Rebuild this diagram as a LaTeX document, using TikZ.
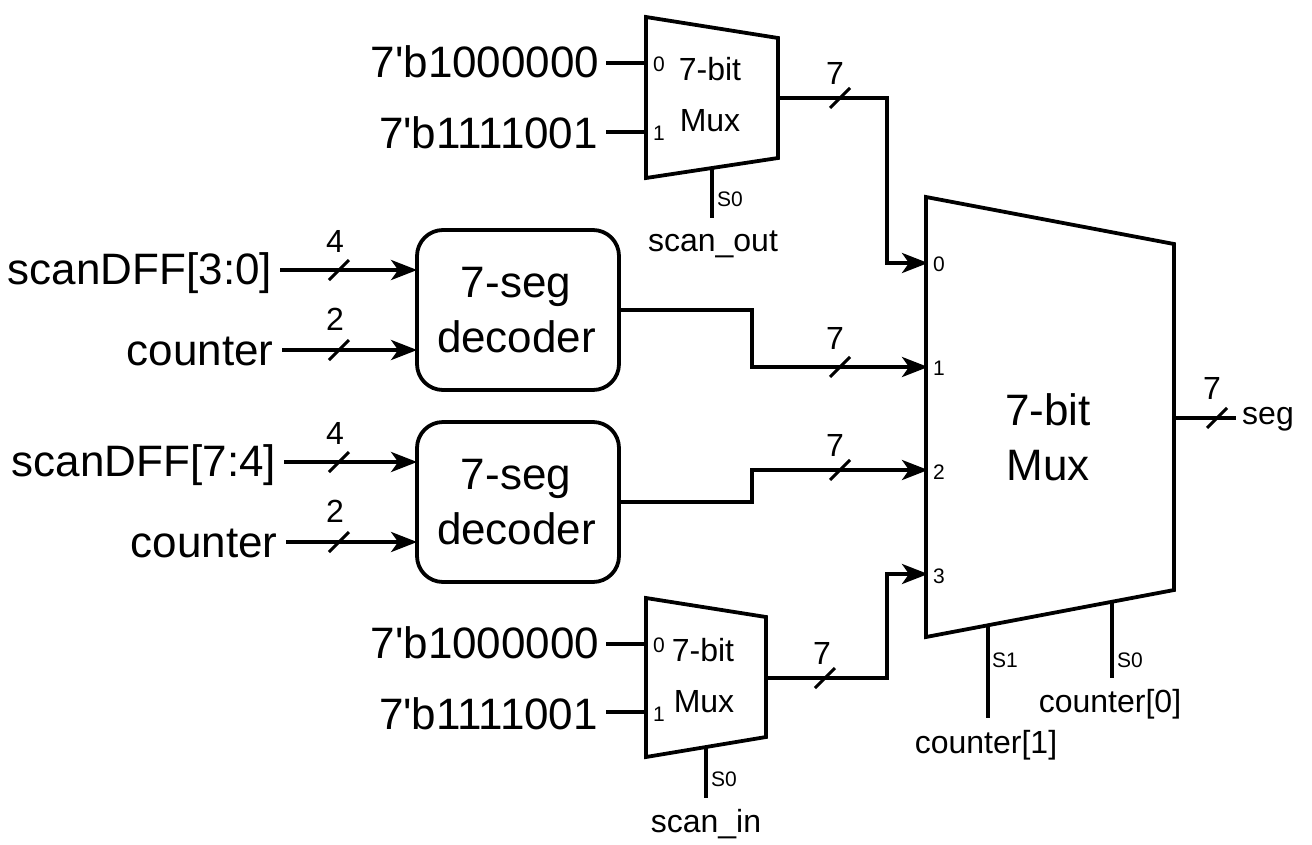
\documentclass[tikz,border=0pt]{standalone}
\usepackage{fontspec}
\setmainfont{Liberation Sans}
\usetikzlibrary{arrows.meta}
\tikzset{
  x=1pt,y=-1pt,
  wire/.style={line width=3.8pt,line join=miter},
  arrowwire/.style={wire,-{Stealth[length=26pt,width=20pt,inset=7pt]},shorten >=-2pt},
  box/.style={line width=3.8pt,line join=miter},
  slash/.style={line width=3pt},
  big/.style={font=\fontsize{44}{44}\selectfont,inner sep=0pt},
  small/.style={font=\fontsize{32}{32}\selectfont,inner sep=0pt},
  pin/.style={font=\fontsize{21}{21}\selectfont,inner sep=0pt},
  buslabel/.style={font=\fontsize{32}{32}\selectfont,inner sep=0pt},
  dec/.style={draw,line width=3.8pt,rounded corners=26pt,minimum width=202pt,minimum height=160pt,inner sep=0pt},
}
\newcommand{\busmark}[5]{%
  \draw[slash] (#1-10,#2+10) -- (#1+10,#2-10);
  \node[buslabel] at (#3,#4) {#5};}
\newcommand{\qq}{\textquotesingle}
\begin{document}
\begin{tikzpicture}
\useasboundingbox (0,0) rectangle (1312,844);
% top small mux
\coordinate (ma) at (646,17);
\coordinate (mb) at (778,38);
\coordinate (mc) at (778,158);
\coordinate (md) at (646,178);
\draw[box] (ma) -- (mb) -- (mc) -- (md) -- cycle;
\node[small] (mt1) at (710,69) {7-bit};
\node[small] (mt2) at (710,121) {Mux};
\node[pin] (mt0p) at (659,64) {0};
\node[pin] (mt1p) at (659,133) {1};
\node[pin] (mts0) at (730,199) {S0};
\node[small] (scanout) at (713,244) {scan\_out};
\coordinate (mti0) at (646,63);
\coordinate (mti1) at (646,132);
\coordinate (mto) at (778,98);
\coordinate (mtsa) at (712,169);
\coordinate (mtsb) at (712,218);
% bottom small mux
\coordinate (na) at (646,598);
\coordinate (nb) at (766,617);
\coordinate (nc) at (766,737);
\coordinate (nd) at (646,757);
\draw[box] (na) -- (nb) -- (nc) -- (nd) -- cycle;
\node[small] (nt1) at (703,650) {7-bit};
\node[small] (nt2) at (704,702) {Mux};
\node[pin] (nt0p) at (659,645) {0};
\node[pin] (nt1p) at (659,714) {1};
\node[pin] (nts0) at (724,779) {S0};
\node[small] (scanin) at (706,824) {scan\_in};
\coordinate (nti0) at (646,644);
\coordinate (nti1) at (646,712);
\coordinate (nto) at (766,678);
\coordinate (ntsa) at (706,748);
\coordinate (ntsb) at (706,798);
% big mux
\coordinate (ba) at (926,197);
\coordinate (bb) at (1174,244);
\coordinate (bc) at (1174,590);
\coordinate (bd) at (926,637);
\draw[box] (ba) -- (bb) -- (bc) -- (bd) -- cycle;
\node[big] (bt1) at (1048,410) {7-bit};
\node[big] (bt2) at (1048,466) {Mux};
\node[pin] (bp0) at (939,264) {0};
\node[pin] (bp1) at (939,368) {1};
\node[pin] (bp2) at (939,472) {2};
\node[pin] (bp3) at (939,576) {3};
\coordinate (bi0) at (926,263);
\coordinate (bi1) at (926,367);
\coordinate (bi2) at (926,470);
\coordinate (bi3) at (926,574);
\coordinate (bo) at (1174,418);
\coordinate (bs1a) at (988,626);
\coordinate (bs1b) at (988,718);
\coordinate (bs0a) at (1112,602);
\coordinate (bs0b) at (1112,678);
\node[pin] (bs1) at (1005,660) {S1};
\node[pin] (bs0) at (1130,660) {S0};
\node[small] (c1) at (986,745) {counter[1]};
\node[small] (c0) at (1110,704) {counter[0]};
\node[small,anchor=west] (seg) at (1242,419) {seg};
\coordinate (bend) at (1236,418);
% decoders
\node[dec] (d1) at (518,310) {};
\node[dec] (d2) at (518,502) {};
\node[big] (d1t) at (516,287) {7-seg};
\node[big] (d1u) at (516.5,337) {decoder};
\node[big] (d2t) at (516,479) {7-seg};
\node[big] (d2u) at (516.5,529) {decoder};
% left labels
\node[big] (l1) at (485,62) {7\qq b1000000};
\node[big] (l2) at (488.5,133) {7\qq b1111001};
\node[big] (l3) at (140,273) {scanDFF[3:0]};
\node[big] (l4) at (200,351) {counter};
\node[big] (l5) at (144,465) {scanDFF[7:4]};
\node[big] (l6) at (204,543) {counter};
\node[big] (l7) at (485,643) {7\qq b1000000};
\node[big] (l8) at (488.5,714) {7\qq b1111001};
% left input free ends
\coordinate (s3) at (280,270);
\coordinate (s4) at (282,350);
\coordinate (s5) at (284,462);
\coordinate (s6) at (286,542);
\coordinate (i1) at (606,63);
\coordinate (i2) at (606,132);
\coordinate (i7) at (606,644);
\coordinate (i8) at (606,712);
\draw[wire] (i1) -- (mti0);
\draw[wire] (i2) -- (mti1);
\draw[wire] (i7) -- (nti0);
\draw[wire] (i8) -- (nti1);
\draw[wire] (mtsa) -- (mtsb);
\draw[wire] (ntsa) -- (ntsb);
\draw[wire] (bs1a) -- (bs1b);
\draw[wire] (bs0a) -- (bs0b);
\draw[wire] (bo) -- (bend);
\coordinate (d1a) at (d1.west |- s3);
\coordinate (d1b) at (d1.west |- s4);
\coordinate (d2a) at (d2.west |- s5);
\coordinate (d2b) at (d2.west |- s6);
\draw[arrowwire] (s3) -- (d1a);
\draw[arrowwire] (s4) -- (d1b);
\draw[arrowwire] (s5) -- (d2a);
\draw[arrowwire] (s6) -- (d2b);
\coordinate (d1o) at (d1.east);
\coordinate (d2o) at (d2.east);
\draw[arrowwire] (mto) -- (887,98) -- (887,263) -- (bi0);
\draw[arrowwire] (d1o) -- (752,310) -- (752,367) -- (bi1);
\draw[arrowwire] (d2o) -- (752,502) -- (752,470) -- (bi2);
\draw[arrowwire] (nto) -- (887,678) -- (887,574) -- (bi3);
\busmark{840}{98}{835}{73}{7}
\busmark{339}{270}{335}{241}{4}
\busmark{339}{350}{335}{319}{2}
\busmark{339}{462}{335}{433}{4}
\busmark{339}{542}{335}{511}{2}
\busmark{840}{367}{835}{338}{7}
\busmark{840}{470}{835}{445}{7}
\busmark{825}{678}{822}{653}{7}
\busmark{1217}{418}{1212}{388}{7}
\end{tikzpicture}
\end{document}
